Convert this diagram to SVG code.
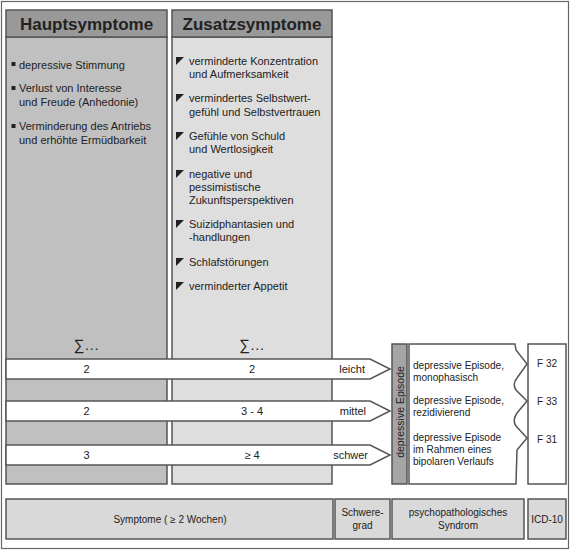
<svg xmlns="http://www.w3.org/2000/svg" width="570" height="550" viewBox="0 0 570 550">
<style>
.t{font-family:"Liberation Sans",Arial,sans-serif;fill:#222;}
.h{font-size:17px;font-weight:bold;text-anchor:middle;}
.li{font-size:11px;}
.s{font-size:10px;}
.ep{font-size:11px;}
.m{text-anchor:middle;}
.e{text-anchor:end;}
.box{stroke:#555;stroke-width:1.5;}
</style>
<defs>
<rect id="sq" width="4" height="4" fill="#222"/>
<path id="tri" d="M0,0 L8,0 L0,8 Z" fill="#222"/>
</defs>
<rect x="1.5" y="1.5" width="567" height="547" fill="#fff" stroke="#666" stroke-width="1.2"/>

<g id="hauptsymptome">
<rect class="box" x="6" y="37" width="161" height="447" fill="#c0c0c0"/>
<rect class="box" x="6" y="10" width="161" height="27" fill="#999"/>
<text class="t h" x="86.5" y="30">Hauptsymptome</text>
<use href="#sq" x="11.5" y="62"/>
<text class="t li" x="19" y="69">depressive Stimmung</text>
<use href="#sq" x="11.5" y="86"/>
<text class="t li" x="19" y="92">Verlust von Interesse</text>
<text class="t li" x="19" y="106">und Freude (Anhedonie)</text>
<use href="#sq" x="11.5" y="124"/>
<text class="t li" x="19" y="130">Verminderung des Antriebs</text>
<text class="t li" x="19" y="144">und erhöhte Ermüdbarkeit</text>
<text class="t m" x="86.5" y="350" style="font-size:15px">∑…</text>
</g>

<g id="zusatzsymptome">
<rect class="box" x="172" y="37" width="160" height="447" fill="#dedede"/>
<rect class="box" x="172" y="10" width="160" height="27" fill="#999"/>
<text class="t h" x="252" y="30">Zusatzsymptome</text>
<use href="#tri" x="176" y="57"/>
<text class="t li" x="189" y="65">verminderte Konzentration</text>
<text class="t li" x="189" y="78">und Aufmerksamkeit</text>
<use href="#tri" x="176" y="94"/>
<text class="t li" x="189" y="102">vermindertes Selbstwert-</text>
<text class="t li" x="189" y="116">gefühl und Selbstvertrauen</text>
<use href="#tri" x="176" y="132"/>
<text class="t li" x="189" y="140">Gefühle von Schuld</text>
<text class="t li" x="189" y="153">und Wertlosigkeit</text>
<use href="#tri" x="176" y="170"/>
<text class="t li" x="189" y="178">negative und</text>
<text class="t li" x="189" y="191">pessimistische</text>
<text class="t li" x="189" y="204">Zukunftsperspektiven</text>
<use href="#tri" x="176" y="220"/>
<text class="t li" x="189" y="228">Suizidphantasien und</text>
<text class="t li" x="189" y="241">-handlungen</text>
<use href="#tri" x="176" y="258"/>
<text class="t li" x="189" y="266">Schlafstörungen</text>
<use href="#tri" x="176" y="282"/>
<text class="t li" x="189" y="290">verminderter Appetit</text>
<text class="t m" x="252" y="350" style="font-size:15px">∑…</text>
</g>

<g id="connectors">
<polygon class="box" points="6,359 370,359 390,369 370,379 6,379" fill="#fff"/>
<text class="t li m" x="86.5" y="373">2</text>
<text class="t li m" x="252" y="373">2</text>
<text class="t li e" x="365" y="373">leicht</text>
<polygon class="box" points="6,401 370,401 390,411 370,421 6,421" fill="#fff"/>
<text class="t li m" x="86.5" y="415">2</text>
<text class="t li m" x="252" y="415">3 - 4</text>
<text class="t li e" x="366" y="415">mittel</text>
<polygon class="box" points="6,445 370,445 390,455 370,465 6,465" fill="#fff"/>
<text class="t li m" x="86.5" y="459">3</text>
<text class="t li m" x="252" y="459">≥ 4</text>
<text class="t li e" x="368" y="459">schwer</text>
</g>

<g id="episode-bar">
<rect class="box" x="392" y="344" width="15" height="140" fill="#a5a5a5"/>
<text class="t m" style="font-size:10.5px" transform="translate(403.5,412) rotate(-90)">depressive Episode</text>
</g>

<g id="episode-types">
<path class="box" d="M409,344 L515,344 L516,350 L527,364 L517,378 Q512,384 516,390 L527,401 L517,413 Q512,420 516,426 L527,438 L517,450 L516,484 L409,484 Z" fill="#fff"/>
<g transform="translate(413,0) scale(0.92,1)">
<text class="t ep" x="0" y="369">depressive Episode,</text>
<text class="t ep" x="0" y="381">monophasisch</text>
<text class="t ep" x="0" y="404">depressive Episode,</text>
<text class="t ep" x="0" y="416">rezidivierend</text>
<text class="t ep" x="0" y="441">depressive Episode</text>
<text class="t ep" x="0" y="453">im Rahmen eines</text>
<text class="t ep" x="0" y="465">bipolaren Verlaufs</text>
</g>
</g>

<g id="icd-codes">
<rect class="box" x="528" y="344" width="38" height="140" fill="#fff"/>
<text class="t s" x="537" y="367">F 32</text>
<text class="t s" x="537" y="405">F 33</text>
<text class="t s" x="537" y="443">F 31</text>
</g>

<g id="legend-symptome">
<rect class="box" x="6" y="499" width="327" height="40" fill="#d9d9d9"/>
<text class="t s m" x="170" y="523">Symptome ( ≥ 2 Wochen)</text>
</g>
<g id="legend-schweregrad">
<rect class="box" x="335" y="499" width="55" height="40" fill="#d9d9d9"/>
<text class="t s m" x="362.5" y="516">Schwere-</text>
<text class="t s m" x="362.5" y="529">grad</text>
</g>
<g id="legend-syndrom">
<rect class="box" x="392" y="499" width="132" height="40" fill="#d9d9d9"/>
<text class="t s m" x="458" y="516">psychopathologisches</text>
<text class="t s m" x="458" y="529">Syndrom</text>
</g>
<g id="legend-icd">
<rect class="box" x="528" y="499" width="38" height="40" fill="#d9d9d9"/>
<text class="t s m" x="547" y="523">ICD-10</text>
</g>
</svg>
